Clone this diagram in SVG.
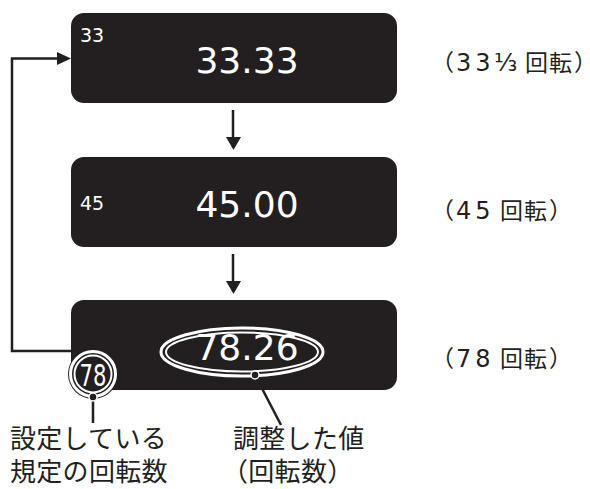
<svg xmlns="http://www.w3.org/2000/svg" width="590" height="489" viewBox="0 0 590 489">
<style>
.box{fill:#231f20}
.big{font-family:"DejaVu Sans",Verdana,sans-serif;font-size:36px;fill:#fff;text-anchor:middle}
.small{font-family:"DejaVu Sans",Verdana,sans-serif;font-size:19px;fill:#fff}
.lab{font-family:"Noto Sans CJK JP","DejaVu Sans",sans-serif;font-size:23px;fill:#231f20}
.num{font-family:"DejaVu Sans",sans-serif;font-size:24px;letter-spacing:4px}
.jp{font-family:"Noto Sans CJK JP",sans-serif;font-size:26px;fill:#231f20;letter-spacing:0.3px}
.conn{stroke:#231f20;stroke-width:2.5;fill:none}
.ring{fill:none;stroke:#fff}
</style>
<g id="node-33">
<rect class="box" x="71" y="13" width="326" height="90" rx="13"/>
<text class="small" x="80" y="42">33</text>
<text class="big" x="247" y="73">33.33</text>
</g>
<g id="node-45">
<rect class="box" x="71" y="157" width="326" height="90" rx="13"/>
<text class="small" x="80" y="210">45</text>
<text class="big" x="247" y="217">45.00</text>
</g>
<g id="node-78">
<rect class="box" x="71" y="300" width="326" height="90" rx="13"/>
<ellipse cx="242" cy="352" rx="81" ry="24" class="ring" stroke-width="3"/>
<ellipse cx="242" cy="352" rx="76" ry="19.5" class="ring" stroke-width="2"/>
<text class="big" x="247" y="360">78.26</text>
<circle cx="93" cy="374" r="25" fill="#231f20"/>
<circle cx="93" cy="374" r="22.5" class="ring" stroke-width="3"/>
<circle cx="93" cy="374" r="18.5" class="ring" stroke-width="2"/>
<text x="79.5" y="386" font-family="DejaVu Sans,sans-serif" font-size="30" fill="#fff" textLength="27" lengthAdjust="spacingAndGlyphs">78</text>
</g>
<g id="connectors">
<path class="conn" d="M233,110 V141"/>
<path d="M226,137 L241,137 L233.5,150 Z" fill="#231f20"/>
<path class="conn" d="M233,254 V285"/>
<path d="M226,281 L241,281 L233.5,294 Z" fill="#231f20"/>
<path class="conn" d="M71,351 H12 V58.5 H60"/>
<path d="M57,52 L71,58.5 L57,65 Z" fill="#231f20"/>
<path class="conn" d="M93,397 V423"/>
<circle cx="93" cy="397" r="4" fill="#231f20" stroke="#fff" stroke-width="1.5"/>
<path class="conn" d="M255,375 L281,425"/>
<circle cx="255" cy="375" r="4" fill="#231f20" stroke="#fff" stroke-width="1.5"/>
</g>
<g id="labels">
<text class="lab" y="71"><tspan x="431">（</tspan><tspan class="num" x="456">33</tspan><tspan class="num" x="494" font-size="18" letter-spacing="0">⅓</tspan><tspan x="517"> </tspan><tspan x="525" letter-spacing="1">回転</tspan><tspan x="574">）</tspan></text>
<text class="lab" y="219"><tspan x="431">（</tspan><tspan class="num" x="456">45</tspan><tspan x="493"> </tspan><tspan x="500" letter-spacing="1">回転</tspan><tspan x="549">）</tspan></text>
<text class="lab" y="367"><tspan x="431">（</tspan><tspan class="num" x="456">78</tspan><tspan x="493"> </tspan><tspan x="500" letter-spacing="1">回転</tspan><tspan x="549">）</tspan></text>
<text class="jp"><tspan x="10" y="448">設定している</tspan><tspan x="10" y="481">規定の回転数</tspan></text>
<text class="jp"><tspan x="233" y="448">調整した値</tspan><tspan x="222" y="481">（回転数）</tspan></text>
</g>
</svg>
